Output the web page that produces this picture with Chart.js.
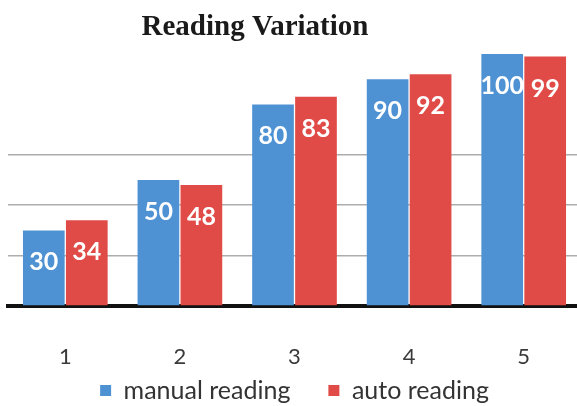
<!DOCTYPE html>
<html>
<head>
<meta charset="utf-8">
<script src="https://cdn.jsdelivr.net/npm/chart.js@4"></script>
<style>
    html, body { margin: 0; padding: 0; background: #fff; overflow: hidden; }
    .chart-box { width: 581px; height: 406px; }
</style>
</head>
<body>
<div class="chart-box"><canvas id="readingChart"></canvas></div>
<script>
const categories = ['1', '2', '3', '4', '5'];
const manualReading = [30, 50, 80, 90, 100];
const autoReading = [34, 48, 83, 92, 99];
const seriesNames = ['manual reading', 'auto reading'];
const chartTitle = 'Reading Variation';

// title sits left of centre in the original, so draw it ourselves
const titlePlugin = {
    id: 'offsetTitle',
    afterDraw(chart) {
        const c = chart.ctx;
        c.save();
        c.font = 'bold 29px "Liberation Serif", "Times New Roman", serif';
        c.fillStyle = '#1a1a1a';
        c.textAlign = 'center';
        c.textBaseline = 'alphabetic';
        c.fillText(chartTitle, 255, 35);
        c.restore();
    }
};

// white value labels just under the top of each bar
const valueLabels = {
    id: 'valueLabels',
    afterDatasetsDraw(chart) {
        const c = chart.ctx;
        c.save();
        c.font = 'bold 25px Lato, "Open Sans", sans-serif';
        c.fillStyle = '#ffffff';
        c.textAlign = 'center';
        c.textBaseline = 'middle';
        chart.data.datasets.forEach((ds, i) => {
            chart.getDatasetMeta(i).data.forEach((bar, j) => {
                c.fillText(String(ds.data[j]), bar.x, bar.y + 32);
            });
        });
        c.restore();
    }
};

// x labels hang down into the legend's top padding, so widen their clip box
const xLabelRoom = {
    id: 'xLabelRoom',
    afterLayout(chart) {
        const x = chart.scales.x;
        x.bottom = x.top + 70;
    }
};

const ctx = document.getElementById('readingChart');

new Chart(ctx, {
    type: 'bar',
    data: {
        labels: categories,
        datasets: [
            {
                label: seriesNames[0],
                data: manualReading,
                backgroundColor: '#4f92d3',
                borderWidth: 0,
            },
            {
                label: seriesNames[1],
                data: autoReading,
                backgroundColor: '#e04b47',
                borderWidth: 0,
            }
        ]
    },
    options: {
        responsive: true,
        maintainAspectRatio: false,
        animation: false,
        layout: {
            padding: {left: 8, right: 0, top: 54, bottom: -7}
        },
        datasets: {
            bar: {
                categoryPercentage: 0.75,
                barPercentage: 0.97,
            }
        },
        scales: {
            x: {
                z: 1,
                grid: {display: false},
                border: {display: true, color: '#111111', width: 4},
                ticks: {
                    color: '#3a3a3a',
                    padding: 30,
                    font: {family: 'Lato', size: 22}
                },
                afterFit(scale) {
                    scale.height = 34;
                }
            },
            y: {
                min: 0,
                max: 100,
                ticks: {display: false, stepSize: 20},
                border: {display: false},
                grid: {
                    drawTicks: false,
                    lineWidth: 1.5,
                    color: (c) => (c.tick && c.tick.value > 0 && c.tick.value <= 60) ? '#adadad' : 'rgba(0,0,0,0)'
                }
            }
        },
        plugins: {
            title: {display: false},
            tooltip: {enabled: false},
            legend: {
                position: 'bottom',
                labels: {
                    color: '#333333',
                    boxWidth: 11,
                    boxHeight: 11,
                    padding: 38,
                    font: {family: 'Lato', size: 25}
                }
            }
        }
    },
    plugins: [titlePlugin, valueLabels, xLabelRoom]
})
</script>
</body>
</html>
